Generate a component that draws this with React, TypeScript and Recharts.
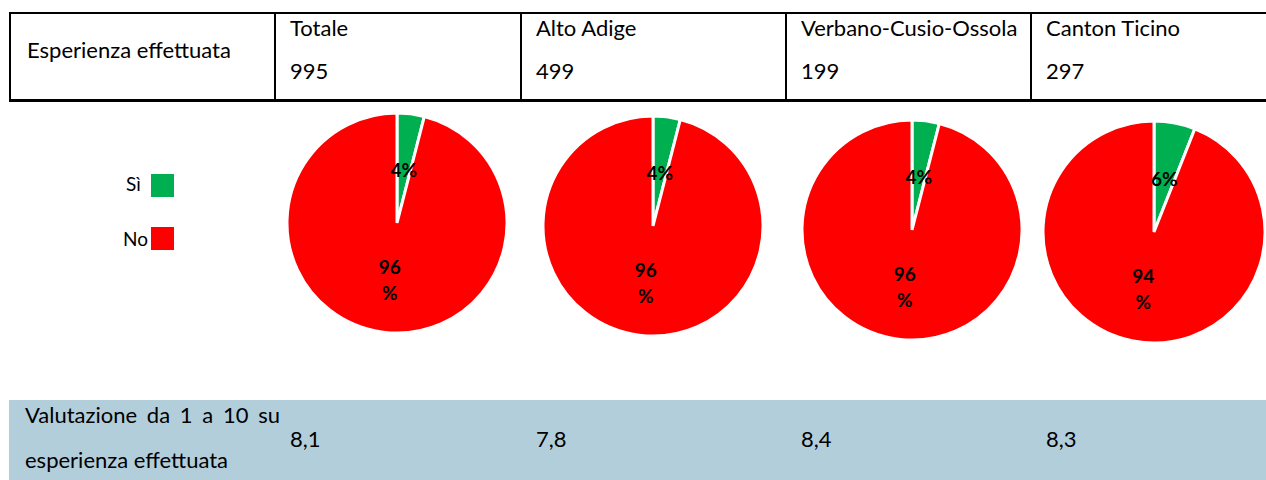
import React from "react";
import { PieChart, Pie, Cell } from "recharts";

const regions = ["Totale", "Alto Adige", "Verbano-Cusio-Ossola", "Canton Ticino"];
const sampleSizes = [995, 499, 199, 297];
const siValues = [4, 4, 4, 6];
const noValues = [96, 96, 96, 94];
const ratings = ["8,1", "7,8", "8,4", "8,3"];
const legendLabels = ["Sì", "No"];
const sliceColors = ["#00b050", "#ff0000"];

const FONT = "Lato, 'Open Sans', sans-serif";
const colLeft = [274, 520, 785, 1030];
const pieLayout = [
  { cx: 397, cy: 223, r: 110 },
  { cx: 653, cy: 226, r: 110 },
  { cx: 912, cy: 230, r: 110 },
  { cx: 1154, cy: 232, r: 111 },
];

const renderLabel = (props: any) => {
  const { cx, cy, midAngle, outerRadius, value, index } = props;
  const RAD = Math.PI / 180;
  if (index === 0) {
    const r = outerRadius * 0.49;
    const x = cx + r * Math.cos(-midAngle * RAD);
    const y = cy + r * Math.sin(-midAngle * RAD);
    return (
      <text x={x} y={y} textAnchor="middle" dominantBaseline="central" fill="#000" fontWeight={700} fontSize={19} fontFamily={FONT}>
        {`${value}%`}
      </text>
    );
  }
  const r = outerRadius * 0.52;
  const x = cx + r * Math.cos(-midAngle * RAD);
  const y = cy + r * Math.sin(-midAngle * RAD);
  return (
    <text x={x} y={y} textAnchor="middle" fill="#000" fontWeight={700} fontSize={19} fontFamily={FONT}>
      <tspan x={x} y={y - 13} dominantBaseline="central">{`${value}`}</tspan>
      <tspan x={x} y={y + 13} dominantBaseline="central">%</tspan>
    </text>
  );
};

export default function App() {
  const pies = regions.map((name, i) => [
    { name: legendLabels[0], value: siValues[i] },
    { name: legendLabels[1], value: noValues[i] },
  ]);
  const txt: React.CSSProperties = { position: "absolute", fontSize: 22, lineHeight: "27px", color: "#000", whiteSpace: "nowrap" };
  const legTxt: React.CSSProperties = { position: "absolute", fontSize: 19, lineHeight: "23px", color: "#000", whiteSpace: "nowrap" };
  const legendTextLeft = [126, 123];
  return (
    <div style={{ position: "absolute", left: 0, top: 0, width: 1266, height: 480, overflow: "hidden", background: "#fff", fontFamily: FONT }}>
      <div style={{ position: "absolute", left: 0, top: 0 }}>
        <PieChart width={1266} height={480} margin={{ top: 0, right: 0, bottom: 0, left: 0 }}>
          {pies.map((data, i) => (
            <Pie
              key={regions[i]}
              data={data}
              dataKey="value"
              nameKey="name"
              cx={pieLayout[i].cx}
              cy={pieLayout[i].cy}
              outerRadius={pieLayout[i].r}
              startAngle={90}
              endAngle={-270}
              stroke="#fff"
              strokeWidth={3}
              label={renderLabel}
              labelLine={false}
              isAnimationActive={false}
            >
              {data.map((d, j) => (
                <Cell key={d.name} fill={sliceColors[j]} />
              ))}
            </Pie>
          ))}
        </PieChart>
      </div>

      {/* header table */}
      <div style={{ position: "absolute", left: 9, top: 12, width: 1257, height: 2, background: "#000" }} />
      <div style={{ position: "absolute", left: 9, top: 99, width: 1257, height: 3, background: "#000" }} />
      <div style={{ position: "absolute", left: 9, top: 12, width: 2, height: 90, background: "#000" }} />
      {colLeft.map((x) => (
        <div key={x} style={{ position: "absolute", left: x, top: 12, width: 2, height: 90, background: "#000" }} />
      ))}
      <div style={{ ...txt, left: 27, top: 36 }}>Esperienza effettuata</div>
      {regions.map((r, i) => (
        <React.Fragment key={r}>
          <div style={{ ...txt, left: colLeft[i] + 16, top: 14 }}>{r}</div>
          <div style={{ ...txt, left: colLeft[i] + 16, top: 57 }}>{sampleSizes[i]}</div>
        </React.Fragment>
      ))}

      {/* legend */}
      {legendLabels.map((l, i) => (
        <React.Fragment key={l}>
          <div style={{ ...legTxt, left: legendTextLeft[i], top: 172 + i * 55 }}>{l}</div>
          <div style={{ position: "absolute", left: 151, top: 174 + i * 53, width: 23, height: 23, background: sliceColors[i] }} />
        </React.Fragment>
      ))}

      {/* bottom band */}
      <div style={{ position: "absolute", left: 9, top: 400, width: 1257, height: 80, background: "#b3cedb" }} />
      <div style={{ ...txt, left: 25, top: 401, width: 255, textAlign: "justify", textAlignLast: "justify" }}>Valutazione da 1 a 10 su</div>
      <div style={{ ...txt, left: 25, top: 446 }}>esperienza effettuata</div>
      {ratings.map((v, i) => (
        <div key={i} style={{ ...txt, left: colLeft[i] + 16, top: 425 }}>{v}</div>
      ))}
    </div>
  );
}
